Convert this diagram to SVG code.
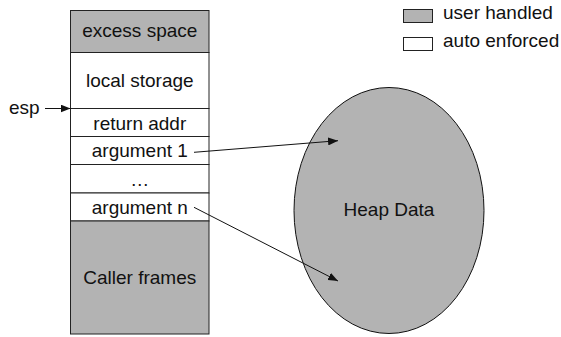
<svg xmlns="http://www.w3.org/2000/svg" width="561" height="337" viewBox="0 0 561 337">
<style>
text{font-family:"Liberation Sans",Arial,sans-serif;font-size:19px;fill:#111}
.c{text-anchor:middle}
.g{fill:#b3b3b3;stroke:#222;stroke-width:1}
.w{fill:#fff;stroke:#222;stroke-width:1}
.ln{stroke:#111;stroke-width:1;fill:none;marker-end:url(#ah)}
</style>
<defs>
<marker id="ah" viewBox="0 0 10 8" refX="10" refY="4" markerWidth="10" markerHeight="8" markerUnits="userSpaceOnUse" orient="auto">
<path d="M0,0 L10,4 L0,8 Z" fill="#111"/>
</marker>
</defs>
<g id="legend">
<rect class="g" x="403.5" y="9.5" width="29" height="13"/>
<text x="443" y="19">user handled</text>
<rect class="w" x="403.5" y="37.5" width="29" height="13"/>
<text x="443" y="47">auto enforced</text>
</g>
<g id="excess-space"><rect class="g" x="70.5" y="10.5" width="138.5" height="42"/><text class="c" x="139.8" y="37">excess space</text></g>
<g id="local-storage"><rect class="w" x="70.5" y="52.5" width="138.5" height="56"/><text class="c" x="139.8" y="86.5">local storage</text></g>
<g id="return-addr"><rect class="w" x="70.5" y="108.5" width="138.5" height="28"/><text class="c" x="139.8" y="129.5">return addr</text></g>
<g id="argument-1"><rect class="w" x="70.5" y="136.5" width="138.5" height="28"/><text class="c" x="139.8" y="157">argument 1</text></g>
<g id="ellipsis"><rect class="w" x="70.5" y="164.5" width="138.5" height="28.5"/><text class="c" x="139.8" y="185.5">…</text></g>
<g id="argument-n"><rect class="w" x="70.5" y="193" width="138.5" height="28"/><text class="c" x="139.8" y="213.5">argument n</text></g>
<g id="caller-frames"><rect class="g" x="70.5" y="221" width="138.5" height="113"/><text class="c" x="139.8" y="283.5">Caller frames</text></g>
<g id="esp"><text x="9" y="114">esp</text></g>
<g id="heap-data"><ellipse cx="389" cy="210.5" rx="95" ry="123" fill="#b3b3b3" stroke="#111" stroke-width="1"/><text class="c" x="389" y="216">Heap Data</text></g>
<g id="connectors">
<line class="ln" x1="45" y1="108.5" x2="70.5" y2="108.5"/>
<line class="ln" x1="194" y1="152.3" x2="338" y2="140.7"/>
<line class="ln" x1="194" y1="207.3" x2="338" y2="281"/>
</g>
</svg>
